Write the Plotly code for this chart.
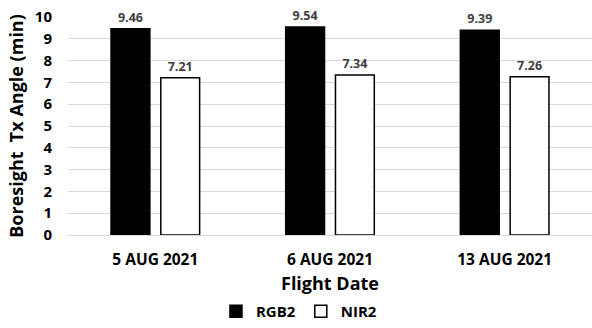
import plotly.graph_objects as go

categories = ["5 AUG 2021", "6 AUG 2021", "13 AUG 2021"]
rgb2 = [9.46, 9.54, 9.39]
nir2 = [7.21, 7.34, 7.26]
y_ticks = list(range(0, 11))

FONT = "Open Sans"

fig = go.Figure()
fig.add_trace(go.Bar(
    x=categories, y=rgb2, name="RGB2",
    marker=dict(color="black", line=dict(color="black", width=1.5)),
    text=[f"{v:.2f}" for v in rgb2], textposition="outside",
    textfont=dict(family=FONT, size=12.5, color="#404040", weight="bold"),
    cliponaxis=False,
))
fig.add_trace(go.Bar(
    x=categories, y=nir2, name="NIR2",
    marker=dict(color="white", line=dict(color="black", width=1.5)),
    text=[f"{v:.2f}" for v in nir2], textposition="outside",
    textfont=dict(family=FONT, size=12.5, color="#404040", weight="bold"),
    cliponaxis=False,
))

fig.update_layout(
    width=592, height=328,
    margin=dict(l=68, r=0, t=17, b=93),
    paper_bgcolor="white", plot_bgcolor="white",
    barmode="group", bargap=0.43, bargroupgap=0.22,
    font=dict(family=FONT, color="black"),
    showlegend=True,
    legend=dict(orientation="h", xref="container", yref="container",
                x=0.505, y=-0.035, xanchor="center", yanchor="bottom",
                font=dict(family=FONT, size=15, color="black", weight="bold"),
                itemwidth=30, traceorder="normal"),
    xaxis=dict(
        showgrid=False, showline=False, zeroline=False,
        ticks="outside", ticklen=10, tickcolor="rgba(0,0,0,0)",
        tickfont=dict(family=FONT, size=15.5, color="black", weight="bold"),
        title=dict(text="Flight Date", standoff=11,
                   font=dict(family=FONT, size=18, color="black", weight="bold")),
    ),
    yaxis=dict(
        range=[0, 10], tickvals=y_ticks,
        showgrid=True, gridcolor="#d9d9d9", gridwidth=1,
        zeroline=True, zerolinecolor="#d9d9d9", zerolinewidth=1,
        showline=False,
        ticks="outside", ticklen=12, tickcolor="rgba(0,0,0,0)",
        tickfont=dict(family=FONT, size=15, color="black", weight="bold"),
        title=dict(text="Boresight \u00a0Tx Angle (min)", standoff=6,
                   font=dict(family=FONT, size=18, color="black", weight="bold")),
    ),
)

fig.write_html("out.html")
